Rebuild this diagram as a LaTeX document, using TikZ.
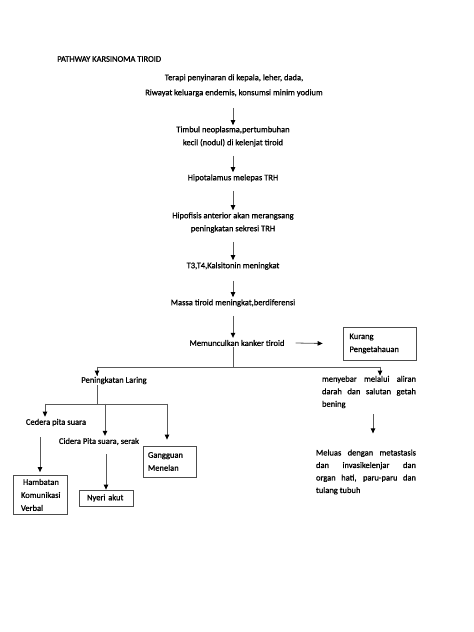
\documentclass[tikz,border=0pt]{standalone}
\usepackage{fontspec}
\setmainfont{Carlito}[FakeBold=0.9]
\usetikzlibrary{arrows.meta,calc}
\begin{document}
\begin{tikzpicture}[x=1pt,y=-1pt,
 txt/.style={font=\fontsize{8.5}{13}\selectfont, align=center, inner sep=1pt},
 par/.style={font=\fontsize{8.5}{12.5}\selectfont, align=justify, inner sep=0pt},
 box/.style={draw=black!70, line width=0.8pt, font=\fontsize{8.5}{13}\selectfont, align=left, inner sep=0pt},
 ln/.style={draw=black!65, line width=0.8pt},
 arr/.style={ln, -{Triangle[width=4.5pt,length=5pt,black]}}]
\useasboundingbox[fill=white] (0,0) rectangle (474,632);

\node[txt, anchor=west] (title) at (56,59) {PATHWAY KARSINOMA TIROID};

\node[txt, font=\fontsize{8.5}{15}\selectfont] (t1) at (234,85.5) {Terapi penyinaran di kepala, leher, dada,\\Riwayat keluarga endemis, konsumsi minim yodium};
\node[txt] (t2) at (233,136.5) {Timbul neoplasma,pertumbuhan\\kecil (nodul) di kelenjat tiroid};
\node[txt] (t3) at (233,178) {Hipotalamus melepas TRH};
\node[txt] (t4) at (233,222.5) {Hipofisis anterior akan merangsang\\peningkatan sekresi TRH};
\node[txt] (t5) at (233,266) {T3,T4,Kalsitonin meningkat};
\node[txt] (t6) at (233,303) {Massa tiroid meningkat,berdiferensi};
\node[txt] (t7) at (237,343) {Memunculkan kanker tiroid};

\node[box, minimum width=73, minimum height=33, text width=60] (kurang) at (379.5,343.5) {Kurang\\Pengetahauan};

\node[txt] (pl) at (114,380.5) {Peningkatan Laring};
\node[txt] (cedera) at (56,422.5) {Cedera pita suara};
\node[txt] (cidera) at (99,441.5) {Cidera Pita suara, serak};
\node[box, minimum width=53, minimum height=31, text width=43] (gang) at (169.5,461.5) {Gangguan\\Menelan};
\node[box, minimum width=54, minimum height=39, text width=38] (hamb) at (40,495) {\hspace*{2pt}Hambatan\\Komunikasi\\Verbal};
\node[box, minimum width=54, minimum height=16, text width=38] (nyeri) at (106,498) {Nyeri akut};

\node[par, text width=94] (meny) at (369,392) {menyebar melalui aliran\linebreak darah dan salutan getah\linebreak bening};
\node[par, text width=100] (mel) at (366,472) {Meluas dengan metastasis\linebreak dan invasikelenjar dan\linebreak organ hati, paru-paru dan\linebreak tulang tubuh};

% main column
\draw[arr] (t1.south -| t2) ++(0,10) coordinate (a1) -- (t2.north);
\draw[arr] ($(t2.south)+(0,8)$) -- ($(t3.north)+(0,-1)$);
\draw[arr] ($(t3.south)+(0,8)$) -- ($(t4.north)+(0,-1)$);
\draw[arr] ($(t4.south)+(0,8)$) -- ($(t5.north)+(0,-1)$);
\draw[arr] ($(t5.south)+(0,10)$) -- ($(t6.north)+(0,-1)$);
\draw[arr] ($(t6.south)+(0,8)$) -- ($(t7.north -| t6)+(0,-1)$);
\draw[arr] ($(t7.east)+(10,0)$) -- ($(kurang.west)+(-20,0)$);

% branch from kanker tiroid
\coordinate (j1) at (233,367);
\draw[ln] (t7.south -| j1) -- (j1);
\draw[ln] (j1) -| ($(pl.north)+(-17,0)$);
\draw[arr] (97,366.6) -- ($(pl.north)+(-17,0)$);
\draw[ln] (j1) -- (380,367);
\draw[arr] (380,366.6) -- (meny.north -| 380,0);

% branch from peningkatan laring
\coordinate (j2) at (97,404);
\draw[ln] ($(pl.south)+(-17,0)$) -- (j2);
\draw[ln] (45,404) -- (167,404);
\draw[arr] (45,403.6) -- ($(cedera.north -| 45,0)+(0,-1)$);
\draw[arr] (105,403.6) -- ($(cidera.north -| 105,0)+(0,-1)$);
\draw[arr] (167,403.6) -- ($(gang.north -| 167,0)+(0,-6)$);

\draw[arr] ($(cedera.south -| hamb.north)+(-0,10)$) -- ($(hamb.north)+(0,-3)$);
\draw[arr] ($(cidera.south -| nyeri.north)+(0,8)$) -- (nyeri.north);
\draw[arr] ($(meny.south)+(4,6)$) -- ($(mel.north)+(7,-16)$);
\end{tikzpicture}
\end{document}
